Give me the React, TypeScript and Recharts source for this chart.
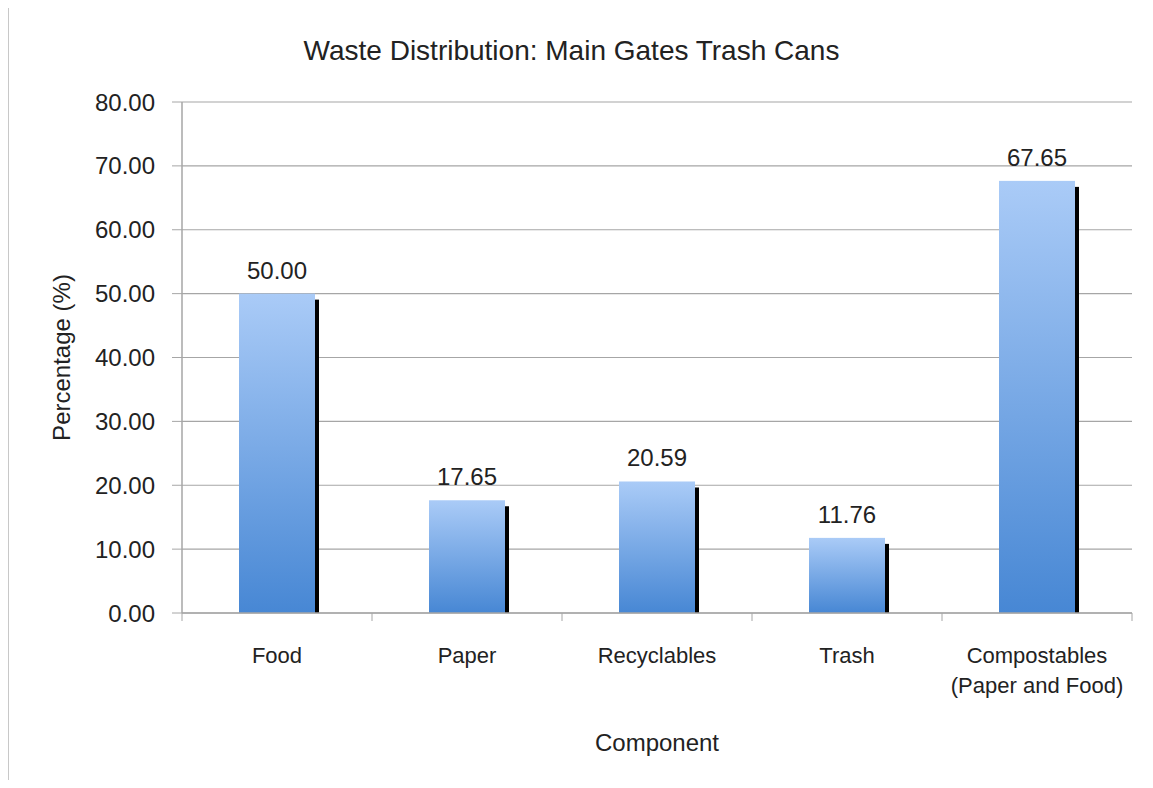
import React from 'react'
import { Bar, BarChart, CartesianGrid, LabelList, XAxis, YAxis } from 'recharts'

const categories = ['Food', 'Paper', 'Recyclables', 'Trash', 'Compostables\n(Paper and Food)']
const percentages = [50.0, 17.65, 20.59, 11.76, 67.65]
const yTicks = [0, 10, 20, 30, 40, 50, 60, 70, 80]

const data = categories.map((name, i) => ({ name, value: percentages[i] }))

const FONT = "'Liberation Sans', Arial, sans-serif"
const AXIS_GRAY = '#a6a6a6'
const TICK_MARGIN = 34

// bar with a hard black drop shadow on the right
const ShadowBar = (props: any) => {
  const { x, y, width, height } = props
  if (!height || height <= 0) return null
  return (
    <g>
      <rect x={x + 4} y={y + 6} width={width} height={height - 6} fill="#000" />
      <rect x={x} y={y} width={width} height={height} fill="url(#barGrad)" />
    </g>
  )
}

// category labels (multi-line) plus tick marks at band boundaries
const CategoryTick = (props: any) => {
  const { x, y, payload, index, visibleTicksCount } = props
  const half = payload.offset || 0
  const axisY = y - TICK_MARGIN
  const lines = String(payload.value).split('\n')
  return (
    <g>
      <line x1={x - half} y1={axisY} x2={x - half} y2={axisY + 8} stroke={AXIS_GRAY} />
      {index === visibleTicksCount - 1 && (
        <line x1={x + half} y1={axisY} x2={x + half} y2={axisY + 8} stroke={AXIS_GRAY} />
      )}
      <text x={x} y={y + 16} textAnchor="middle" fontSize={22} fontFamily={FONT} fill="#222">
        {lines.map((l, i) => (
          <tspan key={i} x={x} dy={i === 0 ? 0 : 30}>
            {l}
          </tspan>
        ))}
      </text>
    </g>
  )
}

export default function App() {
  return (
    <div style={{ position: 'relative', width: 1153, height: 788, margin: -8, background: '#fff', overflow: 'hidden' }}>
      <div
        style={{
          position: 'absolute',
          left: 7,
          top: 5,
          width: 1200,
          height: 782,
          border: '2px solid #c8c8c8',
          boxSizing: 'border-box',
        }}
      />
      <div
        style={{
          position: 'absolute',
          left: 0,
          top: 35,
          width: 1143,
          textAlign: 'center',
          fontFamily: FONT,
          fontSize: 28,
          color: '#222',
        }}
      >
        Waste Distribution: Main Gates Trash Cans
      </div>
      <div
        style={{
          position: 'absolute',
          left: 182,
          top: 729,
          width: 950,
          textAlign: 'center',
          fontFamily: FONT,
          fontSize: 24,
          color: '#222',
        }}
      >
        Component
      </div>
      <div style={{ position: 'absolute', left: 0, top: 0 }}>
        <BarChart
          width={1153}
          height={788}
          data={data}
          margin={{ top: 102, right: 21, bottom: 75, left: 0 }}
          barCategoryGap="30%"
        >
          <defs>
            <linearGradient id="barGrad" x1="0" y1="0" x2="0" y2="1">
              <stop offset="0%" stopColor="#aacbf7" />
              <stop offset="100%" stopColor="#4787d4" />
            </linearGradient>
          </defs>
          <CartesianGrid vertical={false} stroke={AXIS_GRAY} strokeWidth={1.2} />
          <XAxis
            dataKey="name"
            height={100}
            interval={0}
            axisLine={{ stroke: AXIS_GRAY, strokeWidth: 1.5 }}
            tickLine={false}
            tickSize={0}
            tickMargin={TICK_MARGIN}
            tick={<CategoryTick />}
          />
          <YAxis
            width={182}
            domain={[0, 80]}
            ticks={yTicks}
            interval={0}
            tickFormatter={(v: number) => v.toFixed(2)}
            axisLine={{ stroke: AXIS_GRAY, strokeWidth: 1.5 }}
            tickLine={{ stroke: AXIS_GRAY }}
            tickSize={10}
            tickMargin={17}
            tick={{ fontSize: 24, fontFamily: FONT, fill: '#222' }}
            label={{
              value: 'Percentage (%)',
              angle: -90,
              position: 'insideLeft',
              offset: 0,
              dx: 61,
              fontSize: 24,
              fontFamily: FONT,
              fill: '#222',
              style: { textAnchor: 'middle' },
            }}
          />
          <Bar dataKey="value" shape={<ShadowBar />} isAnimationActive={false}>
            <LabelList
              dataKey="value"
              position="top"
              offset={15}
              formatter={(v: any) => Number(v).toFixed(2)}
              style={{ fontSize: 24, fontFamily: FONT, fill: '#222' }}
            />
          </Bar>
        </BarChart>
      </div>
    </div>
  )
}
